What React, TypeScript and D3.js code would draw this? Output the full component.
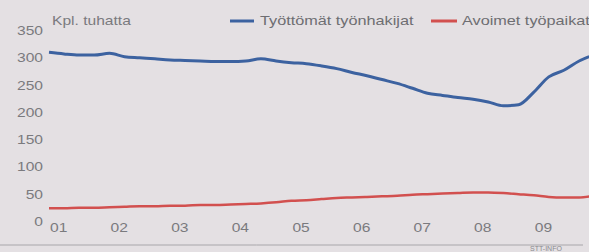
import * as d3 from "d3";

const months = [
  "2001-01", "2001-04", "2001-07", "2001-10", "2002-01", "2002-04", "2002-07", "2002-10",
  "2003-01", "2003-04", "2003-07", "2003-10", "2004-01", "2004-04", "2004-07", "2004-10",
  "2005-01", "2005-04", "2005-07", "2005-10", "2006-01", "2006-04", "2006-07", "2006-10",
  "2007-01", "2007-04", "2007-07", "2007-10", "2008-01", "2008-04", "2008-07", "2008-10",
  "2009-01", "2009-04", "2009-07", "2009-10", "2009-12",
];

// Työttömät työnhakijat, thousands
const unemployed = [
  311, 308, 306, 306, 309, 303, 301, 299,
  297, 296, 295, 294, 294, 295, 299, 295,
  292, 290, 286, 281, 274, 268, 261, 254,
  245, 236, 232, 228, 225, 220, 213, 215,
  238, 266, 278, 295, 303,
];

// Avoimet työpaikat, thousands
const vacancies = [
  25, 25, 26, 26, 27, 28, 29, 29,
  30, 30, 31, 31, 32, 33, 34, 36,
  39, 40, 42, 44, 45, 46, 47, 48,
  50, 51, 52, 53, 54, 54, 53, 51,
  49, 46, 45, 45, 47,
];

const yTicks = [0, 50, 100, 150, 200, 250, 300, 350];
const yearLabels = ["01", "02", "03", "04", "05", "06", "07", "08", "09"];

const W = 589;
const H = 252;
const parse = d3.timeParse("%Y-%m");
const font = "Arial, 'Liberation Sans', sans-serif";

// the scanned print is stretched sideways, so text is widened a bit
const Wide = (p: {
  x: number;
  y: number;
  sx?: number;
  anchor?: string;
  size?: number;
  fill?: string;
  children: string | number;
}) => (
  <text
    transform={`translate(${p.x},${p.y}) scale(${p.sx ?? 1.3},1)`}
    textAnchor={p.anchor ?? "start"}
    fontSize={p.size ?? 12}
    fill={p.fill ?? "#7a7a7e"}
    fontFamily={font}
  >
    {p.children}
  </text>
);

export default function App() {
  const x = d3
    .scaleTime()
    .domain([new Date(2001, 0, 1), new Date(2010, 0, 1)])
    .range([49, 49 + 9 * 60.6]);
  const y = d3.scaleLinear().domain([0, 350]).range([222, 31]);

  const line = d3
    .line<number>()
    .x((_, i) => x(parse(months[i]) as Date))
    .y((d) => y(d))
    .curve(d3.curveMonotoneX);

  return (
    <svg
      width={W}
      height={H}
      style={{ position: "absolute", left: 0, top: 0, background: "#e4e0e3" }}
    >
      <rect width={W} height={H} fill="#e4e0e3" />
      {yTicks.map((t) => (
        <Wide key={t} x={43} y={y(t) + 4} anchor="end">
          {t}
        </Wide>
      ))}
      {yearLabels.map((l, i) => (
        <Wide key={l} x={x(new Date(2001 + i, 0, 1)) + 1} y={232}>
          {l}
        </Wide>
      ))}
      <Wide x={52} y={25} size={12} sx={1.3}>
        Kpl. tuhatta
      </Wide>

      <path d={line(vacancies) ?? ""} fill="none" stroke="#d2504f" strokeWidth={2.5} />
      <path d={line(unemployed) ?? ""} fill="none" stroke="#3c62a0" strokeWidth={3} />

      <line x1={230} x2={254} y1={21} y2={21} stroke="#3c62a0" strokeWidth={3} />
      <Wide x={260} y={25} size={13} sx={1.25} fill="#6e6e72">
        Työttömät työnhakijat
      </Wide>
      <line x1={431} x2={457} y1={21} y2={21} stroke="#d2504f" strokeWidth={3} />
      <Wide x={462} y={25} size={13} sx={1.25} fill="#6e6e72">
        Avoimet työpaikat
      </Wide>

      <line x1={0} x2={583} y1={245} y2={245} stroke="#a8a6aa" strokeWidth={1} />
      <text x={530} y={251} fontFamily={font} fontSize={7} fill="#8a8a8e">
        STT-INFO
      </text>
    </svg>
  );
}
